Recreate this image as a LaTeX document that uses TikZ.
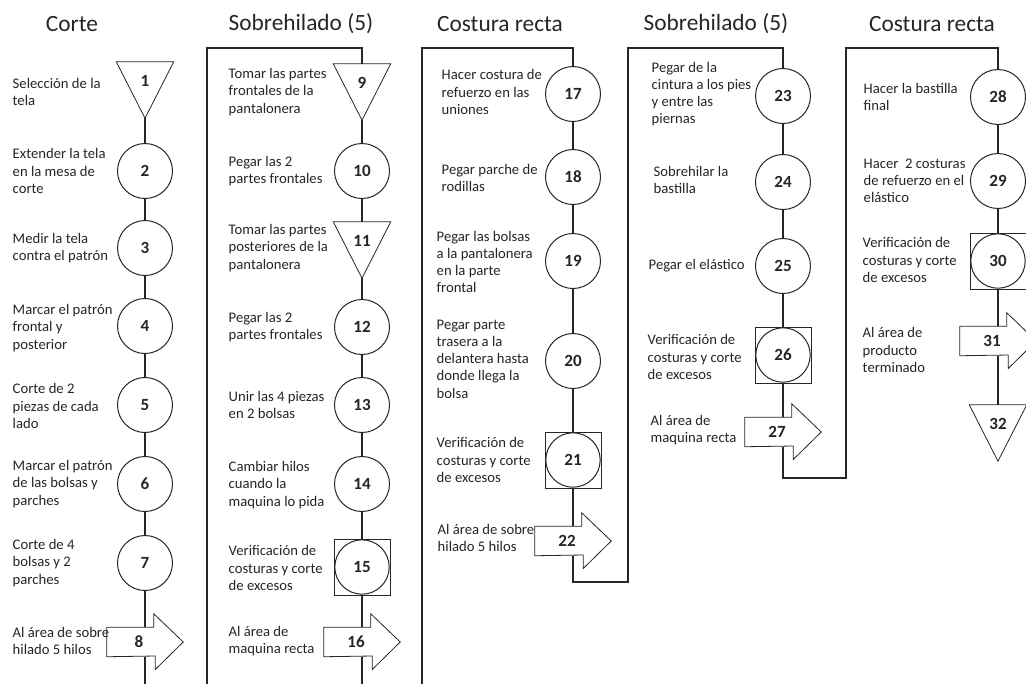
\documentclass[tikz,border=0pt]{standalone}
\usepackage{fontspec}
\setmainfont{Carlito}
\usetikzlibrary{positioning}
\tikzset{
    operation/.style={
           circle,
           draw, line width=0.75pt,
           minimum size=41.25pt, inner sep=0pt,
           font=\fontsize{12.8}{14}\selectfont\bfseries,
           },
    inspection/.style={
           rectangle,
           draw, line width=0.6pt,
           minimum size=42pt, inner sep=0pt,
           font=\fontsize{12.8}{14}\selectfont\bfseries,
           path picture={\draw[line width=0.75pt] (path picture bounding box.center) circle (20.4pt);},
           },
    storage/.style={
           rectangle,
           minimum width=42pt, minimum height=41.25pt, inner sep=0pt,
           text depth=14pt,
           font=\fontsize{12.8}{14}\selectfont\bfseries,
           },
    transport/.style={
           rectangle,
           minimum width=56.25pt, minimum height=21pt, inner sep=0pt,
           execute at begin node={\hspace*{-9pt}},
           font=\fontsize{12.8}{14}\selectfont\bfseries,
           },
    desc/.style={
           anchor=west, align=left, inner sep=0pt,
           font=\fontsize{11}{12.9}\selectfont,
           },
    heading/.style={
           font=\fontsize{17.5}{20}\selectfont,
           },
}

\begin{document}
\begin{tikzpicture}[x=0.75pt,y=-0.75pt,line width=1.1pt,black!85]
    \path[use as bounding box,fill=white] (0,0) rectangle (1026,683);
    \clip (0,0) rectangle (1026,683);

    \node[heading] (T1) at (72,24)  {Corte};
    \node[heading] (T2) at (301,24) {Sobrehilado (5)};
    \node[heading] (T3) at (500,24) {Costura recta};
    \node[heading] (T4) at (716,24) {Sobrehilado (5)};
    \node[heading] (T5) at (932,24) {Costura recta};

    \node[storage]    (O1)  at (145,90)  {1};
    \node[operation]  (O2)  at (145,171) {2};
    \node[operation]  (O3)  at (145,248) {3};
    \node[operation]  (O4)  at (145,326) {4};
    \node[operation]  (O5)  at (145,405) {5};
    \node[operation]  (O6)  at (145,484) {6};
    \node[operation]  (O7)  at (145,563) {7};
    \node[transport]  (O8)  at (145,642) {8};

    \node[storage]    (O9)  at (362,92)  {9};
    \node[operation]  (O10) at (362,171) {10};
    \node[storage]    (O11) at (362,250) {11};
    \node[operation]  (O12) at (362,327) {12};
    \node[operation]  (O13) at (362,405) {13};
    \node[operation]  (O14) at (362,484) {14};
    \node[inspection] (O15) at (362,567) {15};
    \node[transport]  (O16) at (362,642) {16};

    \node[operation]  (O17) at (573,94)  {17};
    \node[operation]  (O18) at (573,177) {18};
    \node[operation]  (O19) at (573,261) {19};
    \node[operation]  (O20) at (573,361) {20};
    \node[inspection] (O21) at (573,460) {21};
    \node[transport]  (O22) at (573,541) {22};

    \node[operation]  (O23) at (783,96)  {23};
    \node[operation]  (O24) at (783,182) {24};
    \node[operation]  (O25) at (783,266) {25};
    \node[inspection] (O26) at (783,355) {26};
    \node[transport]  (O27) at (783,432) {27};

    \node[operation]  (O28) at (998,97)  {28};
    \node[operation]  (O29) at (998,181) {29};
    \node[inspection] (O30) at (998,261) {30};
    \node[transport]  (O31) at (998,341) {31};
    \node[storage]    (O32) at (998,433) {32};

    \node[desc] (L1)  at (12,92)   {Selección de la\\tela};
    \node[desc] (L2)  at (12,171)  {Extender la tela\\en la mesa de\\corte};
    \node[desc] (L3)  at (12,248)  {Medir la tela\\contra el patrón};
    \node[desc] (L4)  at (12,328)  {Marcar el patrón\\frontal y\\posterior};
    \node[desc] (L5)  at (12,406)  {Corte de 2\\piezas de cada\\lado};
    \node[desc] (L6)  at (12,484)  {Marcar el patrón\\de las bolsas y\\parches};
    \node[desc] (L7)  at (12,563)  {Corte de 4\\bolsas y 2\\parches};
    \node[desc] (L8)  at (12,641)  {Al área de sobre\\hilado 5 hilos};

    \node[desc] (L9)  at (228,92)  {Tomar las partes\\frontales de la\\pantalonera};
    \node[desc] (L10) at (228,171) {Pegar las 2\\partes frontales};
    \node[desc] (L11) at (228,248) {Tomar las partes\\posteriores de la\\pantalonera};
    \node[desc] (L12) at (228,327) {Pegar las 2\\partes frontales};
    \node[desc] (L13) at (228,405) {Unir las 4 piezas\\en 2 bolsas};
    \node[desc] (L14) at (228,485) {Cambiar hilos\\cuando la\\maquina lo pida};
    \node[desc] (L15) at (228,568) {Verificación de\\costuras y corte\\de excesos};
    \node[desc] (L16) at (228,641) {Al área de\\maquina recta};

    \node[desc] (L17) at (441,92)  {Hacer costura de\\refuerzo en las\\uniones};
    \node[desc] (L18) at (441,178) {Pegar parche de\\rodillas};
    \node[desc] (L19) at (436,262) {Pegar las bolsas\\a la pantalonera\\en la parte\\frontal};
    \node[desc] (L20) at (436,359) {Pegar parte\\trasera a la\\delantera hasta\\donde llega la\\bolsa};
    \node[desc] (L21) at (436,460) {Verificación de\\costuras y corte\\de excesos};
    \node[desc] (L22) at (437,538) {Al área de sobre\\hilado 5 hilos};

    \node[desc] (L23) at (651,94)  {Pegar de la\\cintura a los pies\\y entre las\\piernas};
    \node[desc] (L24) at (653,180) {Sobrehilar la\\bastilla};
    \node[desc] (L25) at (648,266) {Pegar el elástico};
    \node[desc] (L26) at (647,357) {Verificación de\\costuras y corte\\de excesos};
    \node[desc] (L27) at (650,430) {Al área de\\maquina recta};

    \node[desc] (L28) at (863,97)  {Hacer la bastilla\\final};
    \node[desc] (L29) at (863,181) {Hacer~ 2 costuras\\de refuerzo en el\\elástico};
    \node[desc] (L30) at (862,260) {Verificación de\\costuras y corte\\de excesos};
    \node[desc] (L31) at (862,350) {Al área de\\producto\\terminado};

    \foreach \s in {O1,O9,O11,O32}
        \draw[line width=0.6pt] (\s.north west) -- (\s.north east) -- (\s.south) -- cycle;
    \foreach \a in {O8,O16,O22,O27,O31}
        \draw[line width=0.6pt] (\a.north west) -- ++(47,0) -- ++(0,-13.5) -- (\a.east)
            -- ++(-28,27.5) -- ++(0,-13.5) -- (\a.south west) -- cycle;

    \foreach \f/\l in {1/7,9/15,17/21,23/26,28/31}
        \foreach \i in {\f,...,\l}{
            \pgfmathtruncatemacro{\j}{\i+1}
            \draw (O\i) -- (O\j);
        }

    \coordinate (low) at (0,705);
    \coordinate (B3)  at (0,582);
    \coordinate (B4)  at (0,478);
    \coordinate (C2)  at (207,48);
    \coordinate (C3)  at (422,48);
    \coordinate (C4)  at (628,48);
    \coordinate (C5)  at (846,48);

    \draw (O8)  -- (O8 |- low)  -| (C2) -| (O9);
    \draw (O16) -- (O16 |- low) -| (C3) -| (O17);
    \draw (O22) -- (O22 |- B3)  -| (C4) -| (O23);
    \draw (O27) -- (O27 |- B4)  -| (C5) -| (O28);
\end{tikzpicture}
\end{document}
